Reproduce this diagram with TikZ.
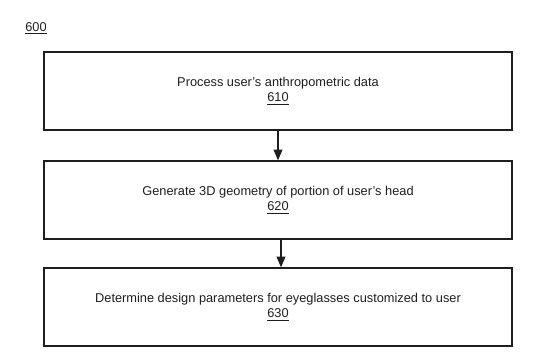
\documentclass[tikz,border=0pt]{standalone}
\usepackage{fontspec}
\setmainfont{Liberation Sans}
\usetikzlibrary{arrows.meta,positioning}
\definecolor{ink}{HTML}{1E1E1E}
\tikzset{
  every node/.style={font=\fontsize{9.6}{11.6}\selectfont, text=ink},
  flow/.style={-{Triangle[length=8pt,width=6.6pt]}, draw=ink, line width=1pt},
  stepbox/.style={rectangle, draw=ink, line width=1pt, align=center,
    minimum width=351pt, minimum height=58.5pt, inner sep=0pt},
  figlabel/.style={inner sep=0pt, anchor=west}
}
\begin{document}
\begin{tikzpicture}[x=0.75pt,y=-0.75pt]
  % Fixed canvas matching the sheet.
  \useasboundingbox (0,0) rectangle (538,361);

  \node[figlabel] (fig) at (25,28) {\underline{600}};

  % Three stacked process steps.
  \node[stepbox] (process) at (278,91)
    {Process user's anthropometric data\\\underline{610}};
  \node[stepbox] (geometry) at (278,200)
    {Generate 3D geometry of portion of user's head\\\underline{620}};
  \node[stepbox] (design) at (278,307)
    {Determine design parameters for eyeglasses customized to user\\\underline{630}};

  \draw[flow] (process.south) -- (geometry.north);
  \draw[flow] ([xshift=2.25pt]geometry.south) -- ([xshift=2.25pt]design.north);
\end{tikzpicture}
\end{document}
